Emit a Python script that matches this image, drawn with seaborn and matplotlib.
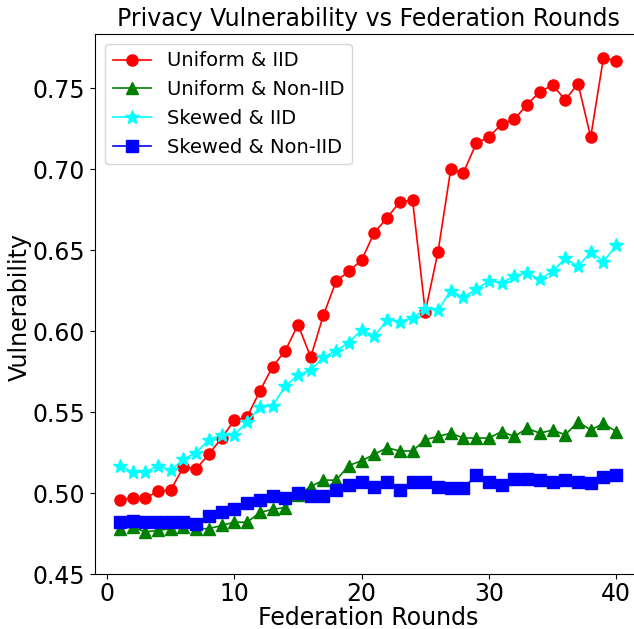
import numpy as np
import pandas as pd
import matplotlib
matplotlib.use("Agg")
import matplotlib.pyplot as plt
import seaborn as sns

rounds = list(range(1, 41))

uniform_iid = [0.496, 0.497, 0.497, 0.501, 0.502, 0.516, 0.515, 0.524, 0.534, 0.545,
               0.547, 0.563, 0.578, 0.588, 0.604, 0.584, 0.610, 0.631, 0.637, 0.644,
               0.661, 0.670, 0.680, 0.681, 0.612, 0.649, 0.700, 0.698, 0.716, 0.720,
               0.728, 0.731, 0.740, 0.748, 0.752, 0.743, 0.753, 0.720, 0.769, 0.767]
uniform_noniid = [0.478, 0.479, 0.476, 0.477, 0.478, 0.479, 0.478, 0.478, 0.480, 0.482,
                  0.482, 0.488, 0.490, 0.491, 0.499, 0.504, 0.508, 0.508, 0.517, 0.520,
                  0.524, 0.528, 0.526, 0.526, 0.533, 0.535, 0.537, 0.534, 0.534, 0.534,
                  0.538, 0.535, 0.540, 0.537, 0.539, 0.536, 0.544, 0.539, 0.543, 0.538]
skewed_iid = [0.517, 0.513, 0.513, 0.517, 0.514, 0.521, 0.525, 0.533, 0.536, 0.536,
              0.544, 0.553, 0.554, 0.566, 0.573, 0.576, 0.584, 0.588, 0.593, 0.601,
              0.597, 0.607, 0.606, 0.608, 0.614, 0.613, 0.625, 0.621, 0.626, 0.631,
              0.630, 0.634, 0.636, 0.632, 0.637, 0.645, 0.640, 0.649, 0.643, 0.653]
skewed_noniid = [0.482, 0.483, 0.482, 0.482, 0.482, 0.482, 0.481, 0.486, 0.488, 0.490,
                 0.494, 0.496, 0.498, 0.497, 0.500, 0.498, 0.498, 0.502, 0.505, 0.507,
                 0.504, 0.507, 0.502, 0.507, 0.507, 0.504, 0.503, 0.503, 0.511, 0.507,
                 0.505, 0.509, 0.509, 0.508, 0.507, 0.508, 0.507, 0.506, 0.510, 0.511]

labels = ["Uniform & IID", "Uniform & Non-IID", "Skewed & IID", "Skewed & Non-IID"]
colors = ["red", "green", "cyan", "blue"]
markers = ["o", "^", "*", "s"]
series = [uniform_iid, uniform_noniid, skewed_iid, skewed_noniid]

plt.rcParams['font.family'] = ['DejaVu Sans']
fig = plt.figure(figsize=(6.34, 6.29), dpi=100)
ax = fig.add_axes([95 / 634, 1 - 574 / 629, (641 - 95) / 634, (574 - 34) / 629])

for lab, col, mk, vals in zip(labels, colors, markers, series):
    df = pd.DataFrame({"round": rounds, "v": vals})
    sns.lineplot(data=df, x="round", y="v", color=col, marker=mk,
                 markersize=8 if mk != "*" else 10,
                 markeredgecolor=col, markeredgewidth=1.0, linewidth=1.2, label=lab, ax=ax)

ax.set_ylim(bottom=0.45)
ax.set_yticks([0.45, 0.50, 0.55, 0.60, 0.65, 0.70, 0.75])
ax.set_xticks([0, 10, 20, 30, 40])
ax.tick_params(labelsize=17)
ax.tick_params(axis="x", pad=2)
ax.set_xlabel("Federation Rounds", fontsize=17)
ax.set_ylabel("Vulnerability", fontsize=17)
ax.xaxis.set_label_coords(0.5, -(606 - 574) / 540)
ax.yaxis.set_label_coords((32 - 95) / 546, 0.495)
ax.set_title("Privacy Vulnerability vs Federation Rounds", fontsize=17)
ax.legend(loc="upper left", fontsize=14)

fig.savefig("out.png", dpi=100)
